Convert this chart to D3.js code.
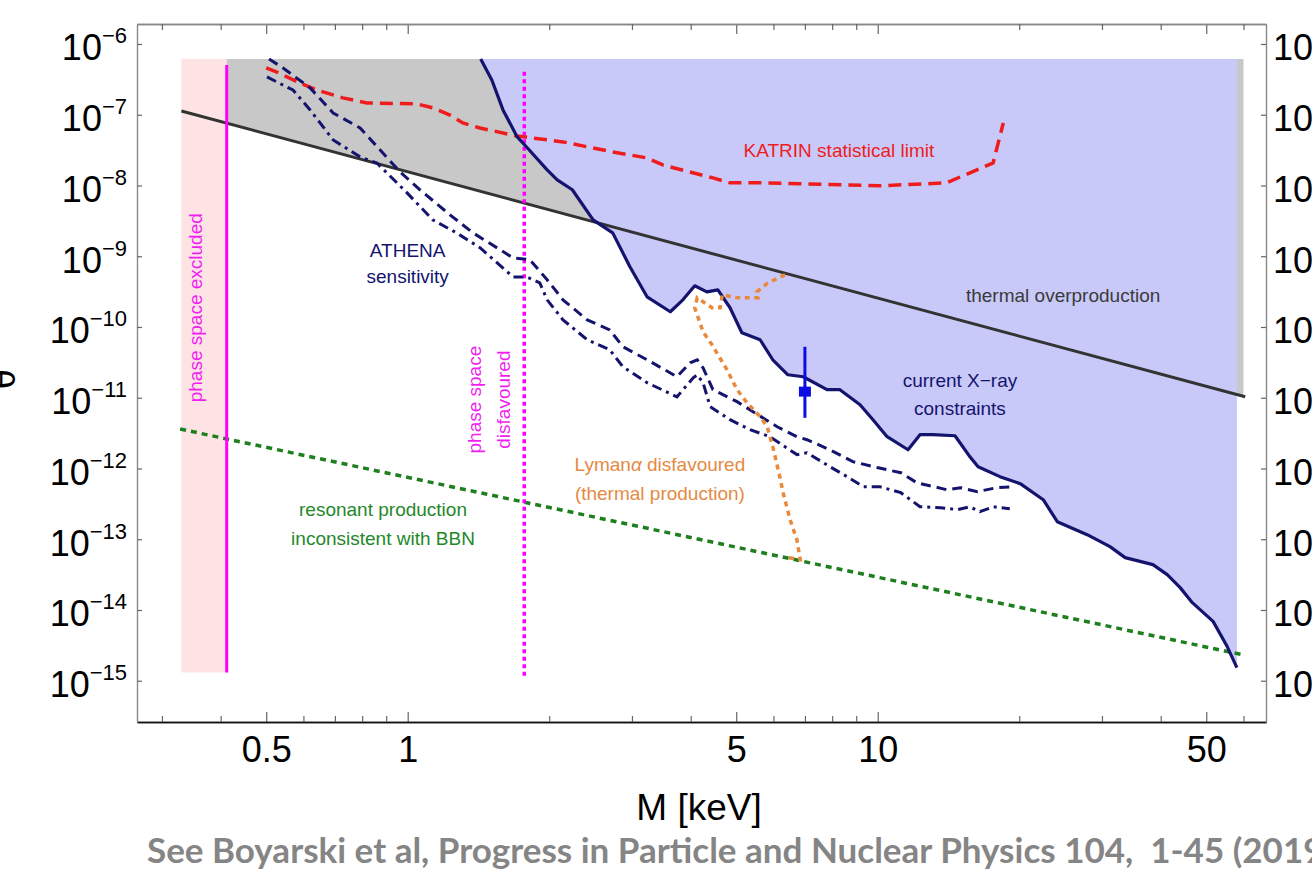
<!DOCTYPE html>
<html>
<head>
<meta charset="utf-8">
<title>Sterile neutrino DM parameter space</title>
<script src="https://d3js.org/d3.v7.min.js"></script>
<style>
  body { margin: 0; background: #fff; }
  svg { display: block; font-family: "Liberation Sans", Arial, sans-serif; }
  .note { font-size: 19px; }
  .caption { font-family: Lato, sans-serif; font-weight: 700; font-size: 35px; fill: #858585; white-space: pre; }
</style>
</head>
<body>
<div id="chart"></div>
<script>
// ticks
const xMajor = [0.5, 1, 5, 10, 50];
const xMinor = [0.3, 0.4, 0.6, 0.7, 0.8, 0.9, 2, 3, 4, 6, 7, 8, 9, 20, 30, 40, 60];
const yTicks = [1e-6, 1e-7, 1e-8, 1e-9, 1e-10, 1e-11, 1e-12, 1e-13, 1e-14, 1e-15];

// shaded regions
const pinkM = [0.33, 0.412];
const pinkG = [1.31e-15, 6.14e-7];
const regionTop = 6.14e-7;
const grayM = [0.412, 60];
const tgM = 0.412;          // phase space excluded (solid magenta)
const tgG = [1.31e-15, 5.05e-7];
const disfM = 1.77;         // phase space disfavoured (dotted magenta)
const disfG = [1.18e-15, 4.54e-7];

// straight lines (two end points each)
const thermalM = [0.33, 60.5];
const thermalG = [1.13e-7, 1.03e-11];
const bbnM = [0.328, 60.5];
const bbnG = [3.61e-12, 2.29e-15];

// KATRIN statistical limit
const katrinM = [0.50, 0.527, 0.59, 0.641, 0.728, 0.819, 1.047, 1.13, 1.23, 1.31, 1.425, 1.708, 2.14, 2.73, 3.23, 3.49, 4.46, 4.85, 5.70, 10.1, 14.0, 17.6, 18.5];
const katrinG = [4.6e-7, 4.0e-7, 2.8e-7, 2.24e-7, 1.73e-7, 1.47e-7, 1.42e-7, 1.25e-7, 9.9e-8, 7.66e-8, 6.5e-8, 5.0e-8, 4.13e-8, 2.98e-8, 2.45e-8, 1.95e-8, 1.28e-8, 1.09e-8, 1.09e-8, 9.9e-9, 1.09e-8, 2.08e-8, 7.66e-8];

// current X-ray constraints
const xrayM = [1.43, 1.51, 1.595, 1.71, 1.79, 1.98, 2.08, 2.24, 2.48, 2.73, 2.97, 3.23, 3.62, 3.85, 4.08, 4.33, 4.57, 4.85, 5.14, 5.62, 5.98, 6.44, 6.94, 7.80, 8.31, 9.17, 9.77, 10.47, 11.6, 12.3, 13.1, 14.6, 15.7, 16.35, 18.2, 20.1, 22.5, 24.1, 27.9, 31.2, 33.6, 38.5, 41.3, 44.0, 46.7, 51.7, 55.4, 58.1];
const xrayG = [6.14e-7, 3.1e-7, 1.17e-7, 4.85e-8, 3.5e-8, 1.66e-8, 1.2e-8, 8.7e-9, 3.27e-9, 2.14e-9, 7.1e-10, 2.67e-10, 1.64e-10, 2.42e-10, 3.82e-10, 3.14e-10, 3.35e-10, 1.87e-10, 8.3e-11, 6.6e-11, 3.44e-11, 2.11e-11, 1.98e-11, 1.30e-11, 1.30e-11, 7.96e-12, 4.89e-12, 2.81e-12, 1.84e-12, 3.0e-12, 3.0e-12, 2.9e-12, 1.47e-12, 1.06e-12, 7.66e-13, 6.1e-13, 3.62e-13, 1.77e-13, 1.16e-13, 7.85e-14, 5.5e-14, 4.37e-14, 3.16e-14, 2.07e-14, 1.27e-14, 6.9e-15, 3.04e-15, 1.53e-15];

// ATHENA sensitivity (dashed and dot-dashed)
const athenaM = [0.507, 0.543, 0.620, 0.694, 0.792, 0.963, 1.062, 1.23, 1.377, 1.675, 1.82, 1.98, 2.14, 2.41, 2.69, 2.87, 3.23, 3.74, 3.99, 4.13, 4.25, 4.46, 5.02, 5.43, 6.11, 6.73, 7.07, 7.91, 8.85, 9.97, 11.2, 12.1, 14.05, 15.0, 16.3, 17.9, 19.4];
const athenaG = [6.14e-7, 4.58e-7, 2.39e-7, 1.06e-7, 6.5e-8, 1.56e-8, 8.7e-9, 3.85e-9, 2.14e-9, 9.5e-10, 8.9e-10, 4.64e-10, 2.42e-10, 1.26e-10, 9.1e-11, 5.25e-11, 3.44e-11, 1.98e-11, 3.12e-11, 3.44e-11, 2.65e-11, 1.30e-11, 8.8e-12, 6.34e-12, 3.89e-12, 2.81e-12, 2.55e-12, 1.84e-12, 1.25e-12, 1.03e-12, 8.7e-13, 6.3e-13, 5.0e-13, 5.35e-13, 4.7e-13, 5.35e-13, 5.5e-13];
const athena2M = [0.502, 0.527, 0.570, 0.620, 0.694, 0.792, 0.860, 0.997, 1.13, 1.27, 1.425, 1.675, 1.79, 1.91, 1.98, 2.14, 2.41, 2.69, 2.87, 3.23, 3.74, 4.05, 4.13, 4.25, 4.40, 4.85, 5.35, 5.90, 6.73, 7.07, 7.91, 8.61, 9.31, 10.1, 11.2, 12.3, 13.6, 14.8, 15.7, 16.5, 17.6, 19.1];
const athena2G = [3.42e-7, 2.9e-7, 2.24e-7, 1.17e-7, 4.4e-8, 2.54e-8, 2.08e-8, 7.85e-9, 3.27e-9, 2.14e-9, 1.32e-9, 5.1e-10, 5.1e-10, 4.2e-10, 2.42e-10, 1.26e-10, 6.6e-11, 4.76e-11, 2.74e-11, 1.63e-11, 1.03e-11, 1.91e-11, 2.11e-11, 1.63e-11, 7.5e-12, 4.89e-12, 3.53e-12, 2.81e-12, 1.57e-12, 1.67e-12, 1.06e-12, 7.66e-13, 5.53e-13, 5.53e-13, 4.55e-13, 2.88e-13, 2.79e-13, 2.62e-13, 2.88e-13, 2.45e-13, 2.88e-13, 2.7e-13];

// Lyman-alpha (thermal production)
const lymanM = [6.35, 5.84, 5.53, 5.56, 5.04, 4.67, 4.62, 4.44, 4.13, 4.08, 4.25, 4.44, 4.78, 5.02, 5.27, 5.62, 5.82, 5.98, 6.19, 6.29, 6.51, 6.73, 6.84, 6.45];
const lymanG = [5.46e-10, 4.2e-10, 3.14e-10, 2.58e-10, 2.58e-10, 2.85e-10, 1.87e-10, 1.87e-10, 2.58e-10, 1.87e-10, 8.55e-11, 5.6e-11, 2.48e-11, 1.30e-11, 8.5e-12, 5.4e-12, 3.89e-12, 2.03e-12, 7.66e-13, 4.55e-13, 1.89e-13, 9.86e-14, 5.15e-14, 5.5e-14];

// 3.5 keV line
const lineM = 7.0;
const lineG = 1.22e-11;
const lineErr = [5.2e-12, 5.25e-11];

const W = 1312, H = 879;
const x = d3.scaleLog().domain([0.2655, 67]).range([137, 1266]);
const y = d3.scaleLog().domain([2.61e-16, 1.916e-6]).range([722, 24]);

const svg = d3.select("#chart").append("svg")
    .attr("width", W)
    .attr("height", H);

const navy = "#14146e";
const zip = (ms, gs) => ms.map((m, i) => [m, gs[i]]);
const line = d3.line().x(d => x(d[0])).y(d => y(d[1]));

// pink band
svg.append("rect")
    .attr("x", x(pinkM[0]))
    .attr("width", x(pinkM[1]) - x(pinkM[0]))
    .attr("y", y(pinkG[1]))
    .attr("height", y(pinkG[0]) - y(pinkG[1]))
    .attr("fill", "#fde3e3");

// gray: thermal overproduction (above the black line)
svg.append("clipPath").attr("id", "grayclip")
    .append("rect")
    .attr("x", x(grayM[0]))
    .attr("width", x(grayM[1]) - x(grayM[0]))
    .attr("y", 0)
    .attr("height", H);
svg.append("path")
    .attr("clip-path", "url(#grayclip)")
    .attr("d", line([[thermalM[0], regionTop], [thermalM[1], regionTop], [thermalM[1], thermalG[1]], [thermalM[0], thermalG[0]]]) + "Z")
    .attr("fill", "#c8c8c8");

// blue: current X-ray constraints
const xray = zip(xrayM, xrayG);
svg.append("path")
    .attr("d", line(xray.concat([[xrayM[xrayM.length - 1], regionTop]])) + "Z")
    .attr("fill", "#c9c9f9");

// thermal overproduction line
svg.append("path")
    .attr("d", line(zip(thermalM, thermalG)))
    .attr("fill", "none")
    .attr("stroke", "#333")
    .attr("stroke-width", 3);

// BBN line
svg.append("path")
    .attr("d", line(zip(bbnM, bbnG)))
    .attr("fill", "none")
    .attr("stroke", "#1d7f1d")
    .attr("stroke-width", 3.5)
    .attr("stroke-dasharray", "6,5");

// magenta lines
svg.append("line")
    .attr("x1", x(tgM)).attr("x2", x(tgM))
    .attr("y1", y(tgG[0])).attr("y2", y(tgG[1]))
    .attr("stroke", "#ff00ff")
    .attr("stroke-width", 3);
svg.append("line")
    .attr("x1", x(disfM)).attr("x2", x(disfM))
    .attr("y1", y(disfG[0])).attr("y2", y(disfG[1]))
    .attr("stroke", "#ff00ff")
    .attr("stroke-width", 3.5)
    .attr("stroke-dasharray", "4,3.5");

// KATRIN
svg.append("path")
    .attr("d", line(zip(katrinM, katrinG)))
    .attr("fill", "none")
    .attr("stroke", "#ee1c1c")
    .attr("stroke-width", 3.5)
    .attr("stroke-dasharray", "13,7");

// ATHENA
svg.append("path")
    .attr("d", line(zip(athenaM, athenaG)))
    .attr("fill", "none")
    .attr("stroke", navy)
    .attr("stroke-width", 3)
    .attr("stroke-dasharray", "10,6");
svg.append("path")
    .attr("d", line(zip(athena2M, athena2G)))
    .attr("fill", "none")
    .attr("stroke", navy)
    .attr("stroke-width", 3)
    .attr("stroke-dasharray", "10,5,3,5");

// X-ray boundary
svg.append("path")
    .attr("d", line(xray))
    .attr("fill", "none")
    .attr("stroke", navy)
    .attr("stroke-width", 3.2)
    .attr("stroke-linejoin", "round");

// Lyman-alpha
svg.append("path")
    .attr("d", line(zip(lymanM, lymanG)))
    .attr("fill", "none")
    .attr("stroke", "#e8893c")
    .attr("stroke-width", 3.5)
    .attr("stroke-dasharray", "5,4.5");

// 3.5 keV line point
svg.append("line")
    .attr("x1", x(lineM)).attr("x2", x(lineM))
    .attr("y1", y(lineErr[0])).attr("y2", y(lineErr[1]))
    .attr("stroke", "#0b0be6")
    .attr("stroke-width", 3);
svg.append("rect")
    .attr("x", x(lineM) - 6).attr("y", y(lineG) - 5)
    .attr("width", 12).attr("height", 10)
    .attr("fill", "#0b0be6");

// annotations
function note(m, g, lines, color, lh) {
    const t = svg.append("text")
        .attr("class", "note")
        .attr("x", x(m)).attr("y", y(g))
        .attr("text-anchor", "middle")
        .attr("fill", color);
    lines.forEach((s, i) => {
        t.append("tspan").attr("x", x(m)).attr("dy", i ? lh : 0).text(s);
    });
    return t;
}
function vnote(m, g, lines, color, lh) {
    const t = svg.append("text")
        .attr("class", "note")
        .attr("transform", `translate(${x(m)},${y(g)}) rotate(-90)`)
        .attr("text-anchor", "middle")
        .attr("fill", color);
    lines.forEach((s, i) => {
        t.append("tspan").attr("x", 0).attr("dy", i ? lh : 0).text(s);
    });
}

note(1.0, 9.8e-10, ["ATHENA", "sensitivity"], navy, 26);
note(8.27, 2.54e-8, ["KATRIN statistical limit"], "#ee1c1c", 0);
note(24.8, 2.27e-10, ["thermal overproduction"], "#3a3a3a", 0);
note(14.96, 1.43e-11, ["current X\u2212ray", "constraints"], navy, 28);
note(0.886, 2.15e-13, ["resonant production", "inconsistent with BBN"], "#23882a", 29);
const lyNote = note(3.44, 9.3e-13, ["", "(thermal production)"], "#e58a44", 29);
const firstLine = lyNote.select("tspan");
firstLine.append("tspan").text("Lyman");
firstLine.append("tspan").attr("font-style", "italic").text("\u03b1");
firstLine.append("tspan").text(" disfavoured");
vnote(0.365, 1.87e-10, ["phase space excluded"], "#f01ef0", 0);
vnote(1.432, 9.4e-12, ["phase space", "disfavoured"], "#f01ef0", 29);

// axes
function styleAxis(g, color) {
    g.select(".domain").attr("stroke", color).attr("stroke-width", 1.4);
    g.selectAll(".tick line").attr("stroke", "#666").attr("stroke-width", 1.2);
}
function expLabels(g, dyBase) {
    g.selectAll(".tick text").each(function (d) {
        const t = d3.select(this).attr("dy", null).attr("y", dyBase)
            .attr("fill", "#000").attr("font-size", 36).text("10");
        t.append("tspan")
            .attr("dy", -17)
            .attr("font-size", 22)
            .text("\u2212" + Math.round(-Math.log10(d)));
    });
}

const axBottom = svg.append("g").attr("transform", "translate(0,722)")
    .call(d3.axisBottom(x).tickValues(xMajor).tickSize(-10).tickSizeOuter(0).tickPadding(0).tickFormat(d => String(d)));
axBottom.selectAll(".tick text").attr("dy", null).attr("y", 40).attr("font-size", 36).attr("fill", "#000");
styleAxis(axBottom, "#111");
const axBottomMinor = svg.append("g").attr("transform", "translate(0,722)")
    .call(d3.axisBottom(x).tickValues(xMinor).tickSize(-6).tickSizeOuter(0).tickFormat(""));
styleAxis(axBottomMinor, "#111");

const axTop = svg.append("g").attr("transform", "translate(0,24)")
    .call(d3.axisTop(x).tickValues(xMajor).tickSize(-10).tickSizeOuter(0).tickFormat(""));
styleAxis(axTop, "#888");
const axTopMinor = svg.append("g").attr("transform", "translate(0,24)")
    .call(d3.axisTop(x).tickValues(xMinor).tickSize(-6).tickSizeOuter(0).tickFormat(""));
styleAxis(axTopMinor, "#888");

const axLeft = svg.append("g").attr("transform", "translate(137,0)")
    .call(d3.axisLeft(y).tickValues(yTicks).tickSize(-5).tickSizeOuter(0).tickPadding(10));
styleAxis(axLeft, "#888");
expLabels(axLeft, 16);

const axRight = svg.append("g").attr("transform", "translate(1266,0)")
    .call(d3.axisRight(y).tickValues(yTicks).tickSize(-5).tickSizeOuter(0).tickPadding(7));
styleAxis(axRight, "#888");
expLabels(axRight, 16);

svg.selectAll(".tick text").attr("font-family", "'Liberation Sans', Arial, sans-serif");

// axis titles
svg.append("text")
    .attr("x", 699).attr("y", 820)
    .attr("text-anchor", "middle")
    .attr("font-size", 37)
    .text("M [keV]");
const yTitle = svg.append("text")
    .attr("transform", "translate(15,373) rotate(-90)")
    .attr("text-anchor", "middle")
    .attr("font-size", 36)
    .text("\u03b8");
yTitle.append("tspan").attr("dy", -16).attr("font-size", 22).text("2");

// source line
svg.append("text")
    .attr("class", "caption")
    .attr("x", 147).attr("y", 863)
    .text("See Boyarski et al, Progress in Particle and Nuclear Physics 104,  1-45 (2019)");
</script>
</body>
</html>
